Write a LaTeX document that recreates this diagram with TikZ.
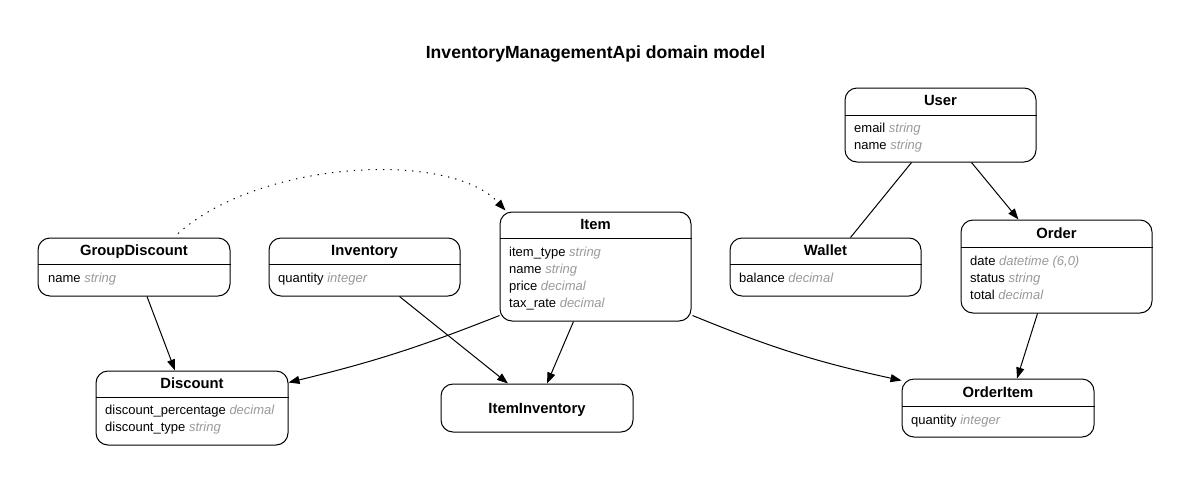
\documentclass[tikz,border=0pt]{standalone}
\usepackage{fontspec}
\setmainfont{Liberation Sans}
\usetikzlibrary{arrows.meta,calc}
\definecolor{typegray}{HTML}{999999}
\tikzset{
  entity/.style={draw, line width=1pt, rounded corners=12pt, inner sep=0pt},
  ename/.style={font=\bfseries\fontsize{14.8}{16}\selectfont, inner sep=0pt, anchor=base},
  attr/.style={font=\fontsize{13}{14}\selectfont, inner sep=0pt, anchor=base west},
  divider/.style={line width=1pt},
  rel/.style={line width=1pt, -{Triangle[length=11pt,width=8pt]}},
  plainrel/.style={line width=1pt},
  dotrel/.style={line width=1pt, dash pattern=on 1.3pt off 6pt, -{Triangle[length=11pt,width=8pt]}},
}
\newcommand{\ty}[1]{{\itshape\color{typegray}#1}}
\begin{document}
\begin{tikzpicture}[x=1pt,y=-1pt]
\useasboundingbox (0,0) rectangle (1191,485);
\node[font=\bfseries\fontsize{17.6}{19}\selectfont, inner sep=0pt, anchor=base] (title) at (595.5,58) {InventoryManagementApi domain model};

% User
\node[entity, minimum width=191pt, minimum height=74pt] (user) at (940.5,125) {};
\node[ename] (usert) at (940.5,105) {User};
\draw[divider] (user.west |- 0,115) -- (user.east |- 0,115);
\node[attr] (usera) at (854,132) {email \ty{string}};
\node[attr] (userb) at (854,149) {name \ty{string}};

% GroupDiscount
\node[entity, minimum width=192pt, minimum height=58pt] (gd) at (134,267) {};
\node[ename] (gdt) at (134,255) {GroupDiscount};
\draw[divider] (gd.west |- 0,264) -- (gd.east |- 0,264);
\node[attr] (gda) at (48,282) {name \ty{string}};

% Inventory
\node[entity, minimum width=191pt, minimum height=58pt] (inv) at (364.5,267) {};
\node[ename] (invt) at (364.5,255) {Inventory};
\draw[divider] (inv.west |- 0,264) -- (inv.east |- 0,264);
\node[attr] (inva) at (278,282) {quantity \ty{integer}};

% Item
\node[entity, minimum width=191pt, minimum height=109pt] (item) at (595.5,266.5) {};
\node[ename] (itemt) at (595.5,229) {Item};
\draw[divider] (item.west |- 0,238) -- (item.east |- 0,238);
\node[attr] (itema) at (509,256) {item\_type \ty{string}};
\node[attr] (itemb) at (509,273) {name \ty{string}};
\node[attr] (itemc) at (509,290) {price \ty{decimal}};
\node[attr] (itemd) at (509,307) {tax\_rate \ty{decimal}};

% Wallet
\node[entity, minimum width=191pt, minimum height=58pt] (wallet) at (825.5,267) {};
\node[ename] (wallett) at (825.5,255) {Wallet};
\draw[divider] (wallet.west |- 0,264) -- (wallet.east |- 0,264);
\node[attr] (walleta) at (739,282) {balance \ty{decimal}};

% Order
\node[entity, minimum width=191pt, minimum height=93pt] (order) at (1056.5,266.5) {};
\node[ename] (ordert) at (1056.5,238) {Order};
\draw[divider] (order.west |- 0,247) -- (order.east |- 0,247);
\node[attr] (ordera) at (970,265) {date \ty{datetime (6,0)}};
\node[attr] (orderb) at (970,282) {status \ty{string}};
\node[attr] (orderc) at (970,299) {total \ty{decimal}};

% Discount
\node[entity, minimum width=192pt, minimum height=74pt] (disc) at (192,408) {};
\node[ename] (disct) at (192,388) {Discount};
\draw[divider] (disc.west |- 0,397) -- (disc.east |- 0,397);
\node[attr] (disca) at (105,414) {discount\_percentage \ty{decimal}};
\node[attr] (discb) at (105,431) {discount\_type \ty{string}};

% ItemInventory
\node[entity, minimum width=192pt, minimum height=48pt] (ii) at (537,408) {};
\node[ename] (iit) at (537,413) {ItemInventory};

% OrderItem
\node[entity, minimum width=192pt, minimum height=58pt] (oi) at (998,408) {};
\node[ename] (oit) at (998,397) {OrderItem};
\draw[divider] (oi.west |- 0,406) -- (oi.east |- 0,406);
\node[attr] (oia) at (911,424) {quantity \ty{integer}};

% connectors
\draw[dotrel] ($(gd.north)+(44,-4)$) .. controls (260,160) and (450,150) .. ($(item.north west)+(6,-1)$);
\draw[rel] ($(gd.south)+(13,0)$) -- ($(disc.north)+(-17,0)$);
\draw[rel] ($(inv.south)+(35,0)$) -- ($(ii.north)+(-29,0)$);
\draw[rel] ($(item.south west)+(0,-6)$) to[bend left=4] ($(disc.north east)+(0,12)$);
\draw[rel] ($(item.south)+(-22,0)$) -- ($(ii.north)+(10,0)$);
\draw[rel] ($(item.south east)+(1,-6)$) to[bend right=5] ($(oi.north west)+(0,2)$);
\draw[plainrel] ($(user.south)+(-29,0)$) -- ($(wallet.north)+(25,0)$);
\draw[rel] ($(user.south)+(31,0)$) -- ($(order.north)+(-38,0)$);
\draw[rel] ($(order.south)+(-19,0)$) -- ($(oi.north)+(19,0)$);
\end{tikzpicture}
\end{document}
